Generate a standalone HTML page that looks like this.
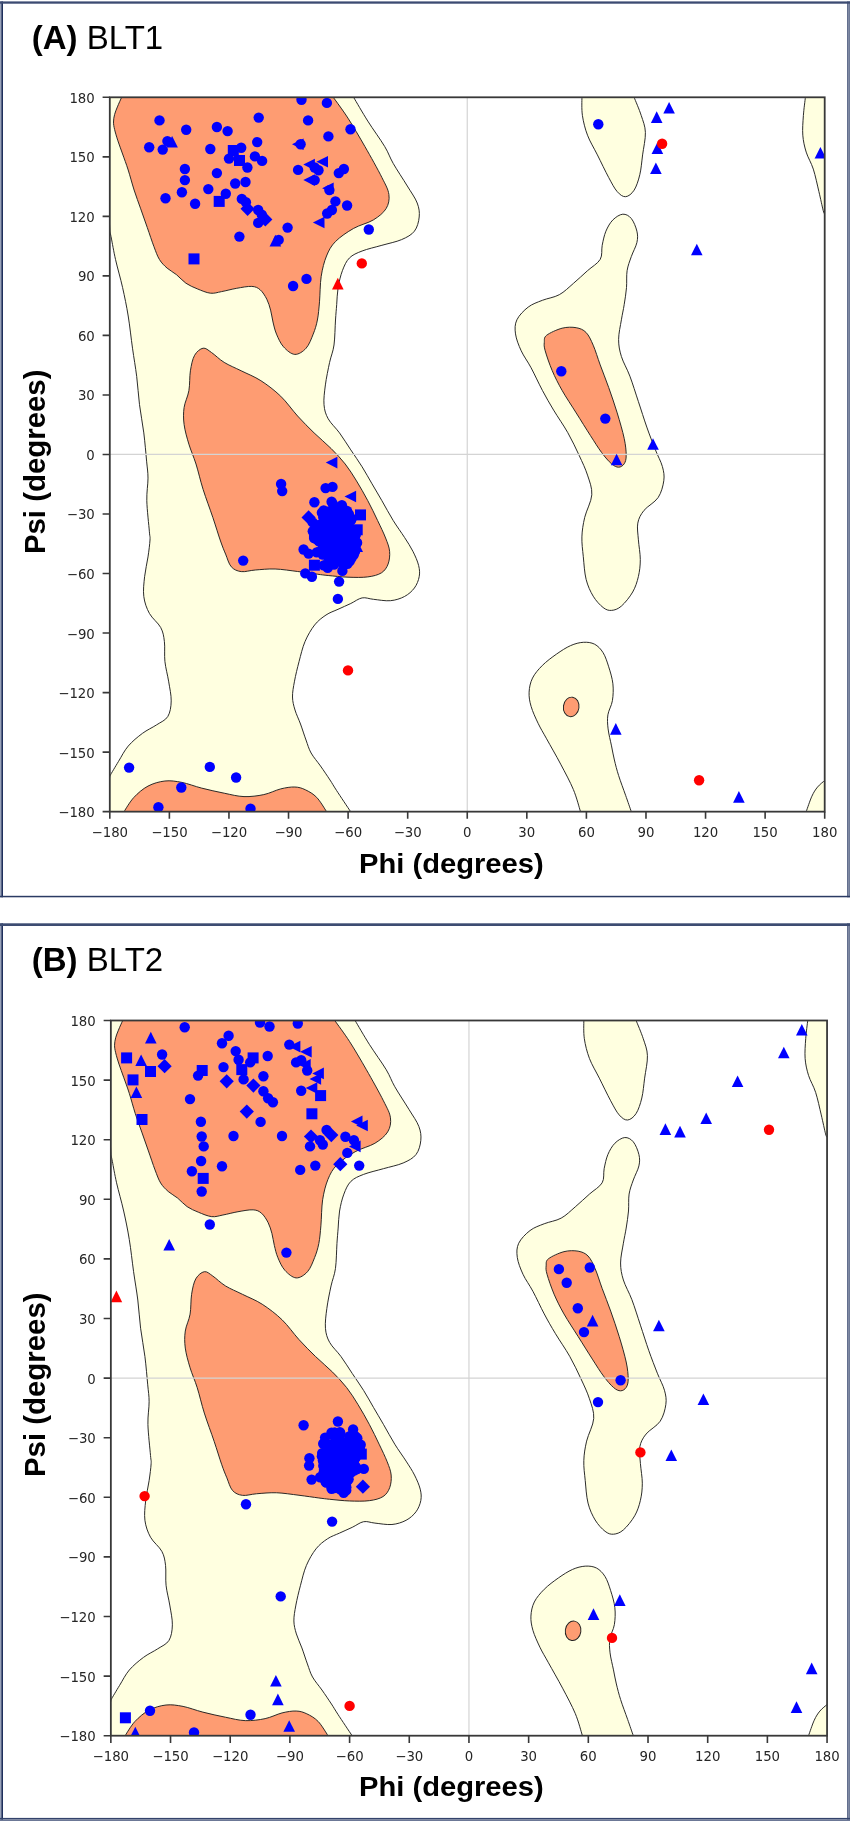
<!DOCTYPE html>
<html lang="en">
<head>
<meta charset="utf-8">
<title>Ramachandran plots: BLT1 and BLT2</title>
<style>
html,body{margin:0;padding:0;background:#fff;}
body{width:850px;height:1821px;overflow:hidden;font-family:"Liberation Sans",sans-serif;}
svg{display:block;will-change:transform;}
</style>
</head>
<body>
<svg width="850" height="1821" viewBox="0 0 850 1821">
<rect width="850" height="1821" fill="#fff"/>
<rect x="0" y="1.4" width="1.3" height="895.9" fill="#9aa3ba"/><rect x="1.3" y="1.4" width="1.7" height="895.9" fill="#1f2f5c"/><rect x="847.2" y="1.4" width="1.4" height="895.9" fill="#3e4d73"/><rect x="848.6" y="1.4" width="1.4" height="895.9" fill="#6f7b98"/><rect x="0" y="1.4" width="850" height="2.3" fill="#3c4b72"/><rect x="0" y="895.8" width="850" height="1.5" fill="#2b3b63"/>
<clipPath id="clipA"><rect x="109.80" y="97.30" width="714.90" height="714.35"/></clipPath>
<g clip-path="url(#clipA)">
<g stroke="#202020" stroke-width="0.95" stroke-linejoin="round">
<path fill="#FFFFE0" d="M353.60 97.30C355.97 101.27 362.62 112.90 367.80 121.10C372.98 129.30 380.47 139.45 384.70 146.50C388.93 153.55 389.43 156.82 393.20 163.40C396.97 169.98 403.30 179.40 407.30 186.00C411.30 192.60 415.22 197.83 417.20 203.00C419.18 208.17 419.67 212.30 419.20 217.00C418.73 221.70 417.33 227.43 414.40 231.20C411.47 234.97 407.02 237.25 401.60 239.60C396.18 241.95 388.48 243.40 381.90 245.30C375.32 247.20 367.52 248.88 362.10 251.00C356.68 253.12 352.68 254.72 349.40 258.00C346.12 261.28 344.28 265.77 342.40 270.70C340.52 275.63 339.05 281.95 338.10 287.60C337.15 293.25 337.13 299.20 336.70 304.60C336.27 310.00 335.95 313.27 335.50 320.00C335.05 326.73 334.98 337.93 334.00 345.00C333.02 352.07 331.03 355.75 329.60 362.40C328.17 369.05 326.33 377.85 325.40 384.90C324.47 391.95 323.53 399.05 324.00 404.70C324.47 410.35 325.62 414.10 328.20 418.80C330.78 423.50 335.73 427.72 339.50 432.90C343.27 438.08 347.03 444.25 350.80 449.90C354.57 455.55 358.57 461.15 362.10 466.80C365.63 472.45 368.70 478.15 372.00 483.80C375.30 489.45 378.37 494.58 381.90 500.70C385.43 506.82 389.43 514.38 393.20 520.50C396.97 526.62 401.22 532.27 404.50 537.40C407.78 542.53 410.55 546.63 412.90 551.30C415.25 555.97 417.55 561.17 418.60 565.40C419.65 569.63 419.90 572.93 419.20 576.70C418.50 580.47 416.85 584.70 414.40 588.00C411.95 591.30 408.50 594.38 404.50 596.50C400.50 598.62 395.58 600.23 390.40 600.70C385.22 601.17 378.12 599.77 373.40 599.30C368.68 598.83 365.87 597.20 362.10 597.90C358.33 598.60 354.82 601.60 350.80 603.50C346.78 605.40 342.13 607.38 338.00 609.30C333.87 611.22 329.90 612.38 326.00 615.00C322.10 617.62 318.10 620.57 314.60 625.00C311.10 629.43 307.58 635.53 305.00 641.60C302.42 647.67 300.85 654.80 299.10 661.40C297.35 668.00 295.60 675.27 294.50 681.20C293.40 687.13 292.42 692.20 292.50 697.00C292.58 701.80 293.67 705.50 295.00 710.00C296.33 714.50 298.67 719.00 300.50 724.00C302.33 729.00 304.23 735.17 306.00 740.00C307.77 744.83 308.68 748.67 311.10 753.00C313.52 757.33 317.35 761.50 320.50 766.00C323.65 770.50 327.33 775.93 330.00 780.00C332.67 784.07 333.07 785.12 336.50 790.40C339.93 795.67 348.25 808.11 350.60 811.65L103.80 817.65L109.80 776.00C111.23 773.60 115.33 766.58 118.40 761.60C121.47 756.62 124.20 750.80 128.20 746.10C132.20 741.40 137.68 736.93 142.40 733.40C147.12 729.87 152.27 727.72 156.50 724.90C160.73 722.08 165.35 720.50 167.80 716.50C170.25 712.50 171.07 706.78 171.20 700.90C171.33 695.02 169.65 687.78 168.60 681.20C167.55 674.62 165.60 668.00 164.90 661.40C164.20 654.80 165.10 647.25 164.40 641.60C163.70 635.95 163.20 632.20 160.70 627.50C158.20 622.80 152.22 618.57 149.40 613.40C146.58 608.23 144.60 602.62 143.80 596.50C143.00 590.38 143.90 583.30 144.60 576.70C145.30 570.10 147.10 563.02 148.00 556.90C148.90 550.78 149.77 544.18 150.00 540.00C150.23 535.82 149.93 538.35 149.40 531.80C148.87 525.25 147.03 509.65 146.80 500.70C146.57 491.75 148.03 484.68 148.00 478.10C147.97 471.52 147.30 468.73 146.60 461.20C145.90 453.67 144.98 442.32 143.80 432.90C142.62 423.48 140.68 414.10 139.50 404.70C138.32 395.30 137.87 385.92 136.70 376.50C135.53 367.08 133.92 358.28 132.50 348.20C131.08 338.12 129.85 326.10 128.20 316.00C126.55 305.90 124.72 297.03 122.60 287.60C120.48 278.17 117.38 267.67 115.50 259.40C113.62 251.13 112.25 242.73 111.30 238.00C110.35 233.27 110.05 232.17 109.80 231.00L103.80 91.30 L353.60 91.30 Z"/>
<path fill="#FFFFE0" d="M581.90 97.30C581.98 100.32 581.47 109.08 582.40 115.40C583.33 121.72 585.00 128.62 587.50 135.20C590.00 141.78 593.87 147.85 597.40 154.90C600.93 161.95 605.40 171.38 608.70 177.50C612.00 183.62 614.38 188.40 617.20 191.60C620.02 194.80 622.78 196.93 625.60 196.70C628.42 196.47 631.73 193.87 634.10 190.20C636.47 186.53 638.38 180.58 639.80 174.70C641.22 168.82 641.67 161.95 642.60 154.90C643.53 147.85 645.63 138.98 645.40 132.40C645.17 125.82 643.08 121.25 641.20 115.40C639.32 109.55 635.28 100.32 634.10 97.30L634.10 91.30L581.90 91.30Z"/>
<path fill="#FFFFE0" d="M622.80 214.20C619.73 214.43 615.72 217.07 612.90 219.90C610.08 222.73 607.68 226.97 605.90 231.20C604.12 235.43 603.15 240.60 602.20 245.30C601.25 250.00 602.65 255.17 600.20 259.40C597.75 263.63 591.97 266.70 587.50 270.70C583.03 274.70 578.10 279.40 573.40 283.40C568.70 287.40 564.47 291.88 559.30 294.70C554.13 297.52 547.58 298.23 542.40 300.30C537.22 302.37 532.45 303.85 528.20 307.10C523.95 310.35 519.02 315.33 516.90 319.80C514.78 324.27 514.78 328.73 515.50 333.90C516.22 339.07 518.60 345.15 521.20 350.80C523.80 356.45 527.57 361.20 531.10 367.80C534.63 374.40 538.65 383.35 542.40 390.40C546.15 397.45 549.37 403.05 553.60 410.10C557.83 417.15 563.55 425.17 567.80 432.70C572.05 440.23 575.82 448.23 579.10 455.30C582.38 462.37 585.38 468.52 587.50 475.10C589.62 481.68 592.27 487.75 591.80 494.80C591.33 501.85 586.35 510.38 584.70 517.40C583.05 524.42 582.13 530.35 581.90 536.90C581.67 543.45 582.60 549.63 583.30 556.70C584.00 563.77 584.45 572.72 586.10 579.30C587.75 585.88 590.37 591.50 593.20 596.20C596.03 600.90 600.05 605.13 603.10 607.50C606.15 609.87 608.45 610.63 611.50 610.40C614.55 610.17 617.87 609.17 621.40 606.10C624.93 603.03 629.87 596.93 632.70 592.00C635.53 587.07 637.13 581.92 638.40 576.50C639.67 571.08 640.30 565.62 640.30 559.50C640.30 553.38 638.82 545.87 638.40 539.80C637.98 533.73 636.87 528.00 637.80 523.10C638.73 518.20 640.62 514.65 644.00 510.40C647.38 506.15 654.80 502.55 658.10 497.60C661.40 492.65 663.08 485.87 663.80 480.70C664.52 475.53 663.82 471.78 662.40 466.60C660.98 461.42 657.90 456.18 655.30 449.60C652.70 443.02 649.62 435.10 646.80 427.10C643.98 419.10 641.22 410.08 638.40 401.60C635.58 393.12 632.73 383.72 629.90 376.20C627.07 368.68 623.28 362.62 621.40 356.50C619.52 350.38 618.60 345.62 618.60 339.50C618.60 333.38 620.47 325.62 621.40 319.80C622.33 313.98 623.35 309.97 624.20 304.60C625.05 299.23 626.02 293.25 626.50 287.60C626.98 281.95 626.30 275.87 627.10 270.70C627.90 265.53 629.67 261.30 631.30 256.60C632.93 251.90 635.97 246.73 636.90 242.50C637.83 238.27 637.83 235.20 636.90 231.20C635.97 227.20 633.65 221.33 631.30 218.50C628.95 215.67 625.87 213.97 622.80 214.20Z"/>
<path fill="#FFFFE0" d="M580.50 811.65C579.32 807.98 576.70 797.51 573.40 789.60C570.10 781.69 565.17 772.67 560.70 764.20C556.23 755.73 550.37 745.62 546.60 738.80C542.83 731.98 540.68 728.70 538.10 723.30C535.52 717.90 532.60 711.58 531.10 706.40C529.60 701.22 528.87 696.92 529.10 692.20C529.33 687.48 530.28 682.57 532.50 678.10C534.72 673.63 538.40 669.40 542.40 665.40C546.40 661.40 551.80 657.40 556.50 654.10C561.20 650.80 566.13 647.57 570.60 645.60C575.07 643.63 579.30 642.53 583.30 642.30C587.30 642.07 591.30 642.47 594.60 644.20C597.90 645.93 600.75 648.93 603.10 652.70C605.45 656.47 607.07 661.62 608.70 666.80C610.33 671.98 612.28 678.15 612.90 683.80C613.52 689.45 613.23 695.53 612.40 700.70C611.57 705.87 608.62 710.10 607.90 714.80C607.18 719.50 607.50 723.72 608.10 728.90C608.70 734.08 610.45 740.72 611.50 745.90C612.55 751.08 613.22 755.07 614.40 760.00C615.58 764.93 616.73 769.62 618.60 775.50C620.47 781.38 623.48 789.27 625.60 795.30C627.72 801.32 630.35 808.92 631.30 811.65L631.30 817.65L580.50 817.65Z"/>
<path fill="#FFFFE0" d="M805.40 97.30C805.07 100.32 803.83 109.08 803.40 115.40C802.97 121.72 802.33 129.08 802.80 135.20C803.27 141.32 804.45 146.45 806.20 152.10C807.95 157.75 811.18 162.52 813.30 169.10C815.42 175.68 817.25 184.70 818.90 191.60C820.55 198.50 822.23 206.77 823.20 210.50C824.17 214.23 824.45 213.42 824.70 214.00L830.70 214.00L830.70 91.30L805.40 91.30Z"/>
<path fill="#FFFFE0" d="M806.20 811.65C807.15 809.08 810.02 800.29 811.90 796.20C813.78 792.11 815.37 789.72 817.50 787.10C819.63 784.48 823.50 781.60 824.70 780.50L830.70 780.50L830.70 817.65L806.20 817.65Z"/>
<path fill="#FE9C72" d="M121.60 97.30C120.90 98.90 118.57 104.03 117.40 106.90C116.23 109.77 115.25 111.98 114.60 114.50C113.95 117.02 113.50 119.50 113.50 122.00C113.50 124.50 113.87 126.37 114.60 129.50C115.33 132.63 116.57 136.72 117.90 140.80C119.23 144.88 120.88 149.13 122.60 154.00C124.32 158.87 126.28 164.00 128.20 170.00C130.12 176.00 132.02 183.53 134.10 190.00C136.18 196.47 138.50 202.53 140.70 208.80C142.90 215.07 145.10 221.32 147.30 227.60C149.50 233.88 151.87 241.17 153.90 246.50C155.93 251.83 157.30 256.00 159.50 259.60C161.70 263.20 164.27 265.58 167.10 268.10C169.93 270.62 173.37 272.18 176.50 274.70C179.63 277.22 182.45 280.85 185.90 283.20C189.35 285.55 193.12 287.13 197.20 288.80C201.28 290.47 206.33 292.73 210.40 293.20C214.47 293.67 217.22 292.42 221.60 291.60C225.98 290.78 231.67 289.17 236.70 288.30C241.73 287.43 247.88 286.15 251.80 286.40C255.72 286.65 257.70 287.67 260.20 289.80C262.70 291.93 265.07 295.82 266.80 299.20C268.53 302.58 269.57 306.30 270.60 310.10C271.63 313.90 272.02 318.00 273.00 322.00C273.98 326.00 274.75 329.97 276.50 334.10C278.25 338.23 280.45 343.42 283.50 346.80C286.55 350.18 291.03 354.17 294.80 354.40C298.57 354.63 303.03 351.58 306.10 348.20C309.17 344.82 311.32 338.80 313.20 334.10C315.08 329.40 316.35 325.38 317.40 320.00C318.45 314.62 318.87 309.07 319.50 301.80C320.13 294.53 320.03 284.03 321.20 276.40C322.37 268.77 324.12 261.82 326.50 256.00C328.88 250.18 330.98 246.10 335.50 241.50C340.02 236.90 347.28 232.00 353.60 228.40C359.92 224.80 367.98 223.20 373.40 219.90C378.82 216.60 383.52 212.83 386.10 208.60C388.68 204.37 389.60 199.68 388.90 194.50C388.20 189.32 385.90 185.50 381.90 177.50C377.90 169.50 370.55 156.38 364.90 146.50C359.25 136.62 353.27 126.40 348.00 118.20C342.73 110.00 335.75 100.78 333.30 97.30L333.30 91.30L121.60 91.30Z"/>
<path fill="#FE9C72" d="M203.10 348.20C205.92 347.73 207.98 350.13 211.50 352.50C215.02 354.87 219.25 359.35 224.20 362.40C229.15 365.45 235.08 367.75 241.20 370.80C247.32 373.85 254.32 376.47 260.90 380.70C267.48 384.93 274.58 390.32 280.70 396.20C286.82 402.08 292.03 409.88 297.60 416.00C303.17 422.12 308.52 427.48 314.10 432.90C319.68 438.32 325.92 443.32 331.10 448.50C336.28 453.68 340.97 458.60 345.20 464.00C349.43 469.40 352.73 474.78 356.50 480.90C360.27 487.02 364.28 494.10 367.80 500.70C371.32 507.30 374.63 514.28 377.60 520.50C380.57 526.72 383.60 532.87 385.60 538.00C387.60 543.13 389.18 546.97 389.60 551.30C390.02 555.63 389.45 560.42 388.10 564.00C386.75 567.58 384.88 570.65 381.50 572.80C378.12 574.95 373.38 576.17 367.80 576.90C362.22 577.63 354.60 577.43 348.00 577.20C341.40 576.97 333.30 576.00 328.20 575.50C323.10 575.00 322.50 574.87 317.40 574.20C312.30 573.53 304.65 572.37 297.60 571.50C290.55 570.63 282.15 569.25 275.10 569.00C268.05 568.75 260.95 569.57 255.30 570.00C249.65 570.43 245.20 572.13 241.20 571.60C237.20 571.07 233.90 569.72 231.30 566.80C228.70 563.88 227.40 558.40 225.60 554.10C223.80 549.80 222.62 547.08 220.50 541.00C218.38 534.92 215.80 526.20 212.90 517.60C210.00 509.00 205.92 498.33 203.10 489.40C200.28 480.47 198.37 471.53 196.00 464.00C193.63 456.47 190.88 450.78 188.90 444.20C186.92 437.62 184.90 430.62 184.10 424.50C183.30 418.38 183.30 413.15 184.10 407.50C184.90 401.85 187.85 396.72 188.90 390.60C189.95 384.48 189.45 376.68 190.40 370.80C191.35 364.92 192.48 359.07 194.60 355.30C196.72 351.53 200.28 348.67 203.10 348.20Z"/>
<path fill="#FE9C72" d="M124.00 811.65C125.65 809.27 129.90 801.66 133.90 797.40C137.90 793.14 142.83 788.83 148.00 786.10C153.17 783.37 159.25 781.62 164.90 781.00C170.55 780.38 175.78 781.22 181.90 782.40C188.02 783.58 194.55 786.30 201.60 788.10C208.65 789.90 217.13 791.78 224.20 793.20C231.27 794.62 237.40 796.37 244.00 796.60C250.60 796.83 257.68 795.88 263.80 794.60C269.92 793.32 275.53 790.17 280.70 788.90C285.87 787.63 290.68 786.85 294.80 787.00C298.92 787.15 301.75 788.07 305.40 789.80C309.05 791.53 313.17 793.76 316.70 797.40C320.23 801.04 324.95 809.27 326.60 811.65L326.60 817.65L124.00 817.65Z"/>
<path fill="#FE9C72" d="M546.60 335.30C549.57 332.93 557.17 329.47 562.10 328.20C567.03 326.93 572.20 326.98 576.20 327.70C580.20 328.42 583.27 329.58 586.10 332.50C588.93 335.42 590.85 339.80 593.20 345.20C595.55 350.60 597.62 357.85 600.20 364.90C602.78 371.95 605.87 379.50 608.70 387.50C611.53 395.50 614.62 404.42 617.20 412.90C619.78 421.38 622.70 431.33 624.20 438.40C625.70 445.47 626.20 451.07 626.20 455.30C626.20 459.53 625.47 461.82 624.20 463.80C622.93 465.78 620.72 467.20 618.60 467.20C616.48 467.20 614.33 466.25 611.50 463.80C608.67 461.35 605.12 457.22 601.60 452.50C598.08 447.78 594.63 442.10 590.40 435.50C586.17 428.90 580.92 420.42 576.20 412.90C571.48 405.38 566.10 397.45 562.10 390.40C558.10 383.35 555.02 377.20 552.20 370.60C549.38 364.00 546.52 355.50 545.20 350.80C543.88 346.10 544.07 344.98 544.30 342.40C544.53 339.82 543.63 337.67 546.60 335.30Z"/>
<ellipse cx="571.2" cy="706.9" rx="7.8" ry="9.8" transform="rotate(8 571.2 706.9)" fill="#FE9C72"/>
</g>
<path d="M467.25 97.30V811.65M109.80 454.47H824.70" stroke="#d4d4d4" stroke-width="1.2" fill="none"/>
<g fill="#0000ff">
<circle cx="332.2" cy="546.2" r="5.2"/><circle cx="332.5" cy="531.3" r="5.2"/><circle cx="324.8" cy="533.2" r="5.2"/><circle cx="347.2" cy="544.6" r="5.2"/><circle cx="346.4" cy="541.5" r="5.2"/><circle cx="339.3" cy="540.3" r="5.2"/><circle cx="316.7" cy="552.4" r="5.2"/><circle cx="340.6" cy="546.0" r="5.2"/><circle cx="325.2" cy="528.6" r="5.2"/><circle cx="338.4" cy="536.2" r="5.2"/><circle cx="340.7" cy="525.4" r="5.2"/><circle cx="338.4" cy="544.1" r="5.2"/><circle cx="327.7" cy="567.9" r="5.2"/><circle cx="341.1" cy="558.5" r="5.2"/><circle cx="328.2" cy="523.7" r="5.2"/><circle cx="331.2" cy="535.1" r="5.2"/><circle cx="342.0" cy="541.5" r="5.2"/><circle cx="330.1" cy="519.8" r="5.2"/><circle cx="329.3" cy="559.0" r="5.2"/><circle cx="326.1" cy="541.4" r="5.2"/><circle cx="339.7" cy="510.2" r="5.2"/><circle cx="335.5" cy="560.5" r="5.2"/><circle cx="312.8" cy="531.2" r="5.2"/><circle cx="333.8" cy="522.3" r="5.2"/><circle cx="340.5" cy="535.9" r="5.2"/><circle cx="318.9" cy="551.9" r="5.2"/><circle cx="342.4" cy="554.0" r="5.2"/><circle cx="350.8" cy="543.5" r="5.2"/><circle cx="336.3" cy="513.6" r="5.2"/><circle cx="341.8" cy="526.0" r="5.2"/><circle cx="330.0" cy="514.2" r="5.2"/><circle cx="324.4" cy="527.4" r="5.2"/><circle cx="319.0" cy="541.3" r="5.2"/><circle cx="350.9" cy="547.4" r="5.2"/><circle cx="338.9" cy="523.7" r="5.2"/><circle cx="322.7" cy="554.6" r="5.2"/><circle cx="347.1" cy="539.8" r="5.2"/><circle cx="337.7" cy="544.8" r="5.2"/><circle cx="352.5" cy="548.1" r="5.2"/><circle cx="340.7" cy="546.9" r="5.2"/><circle cx="345.5" cy="546.5" r="5.2"/><circle cx="333.0" cy="555.4" r="5.2"/><circle cx="341.1" cy="534.3" r="5.2"/><circle cx="338.6" cy="548.7" r="5.2"/><circle cx="336.3" cy="557.6" r="5.2"/><circle cx="327.7" cy="529.5" r="5.2"/><circle cx="346.5" cy="537.5" r="5.2"/><circle cx="325.3" cy="554.0" r="5.2"/><circle cx="351.1" cy="529.0" r="5.2"/><circle cx="319.8" cy="534.6" r="5.2"/><circle cx="333.4" cy="531.6" r="5.2"/><circle cx="350.5" cy="518.5" r="5.2"/><circle cx="348.9" cy="514.2" r="5.2"/><circle cx="326.3" cy="548.4" r="5.2"/><circle cx="347.4" cy="552.5" r="5.2"/><circle cx="338.8" cy="539.6" r="5.2"/><circle cx="336.7" cy="547.4" r="5.2"/><circle cx="333.1" cy="542.0" r="5.2"/><circle cx="341.3" cy="537.0" r="5.2"/><circle cx="343.4" cy="547.2" r="5.2"/><circle cx="357.1" cy="542.8" r="5.2"/><circle cx="330.3" cy="530.3" r="5.2"/><circle cx="334.9" cy="553.6" r="5.2"/><circle cx="331.3" cy="543.9" r="5.2"/><circle cx="322.6" cy="541.4" r="5.2"/><circle cx="339.4" cy="541.3" r="5.2"/><circle cx="330.3" cy="548.8" r="5.2"/><circle cx="338.1" cy="527.6" r="5.2"/><circle cx="328.9" cy="535.2" r="5.2"/><circle cx="332.5" cy="535.9" r="5.2"/><circle cx="346.1" cy="516.0" r="5.2"/><circle cx="334.3" cy="554.2" r="5.2"/><circle cx="344.4" cy="563.8" r="5.2"/><circle cx="316.3" cy="530.6" r="5.2"/><circle cx="331.2" cy="548.2" r="5.2"/><circle cx="347.0" cy="510.9" r="5.2"/><circle cx="342.5" cy="510.1" r="5.2"/><circle cx="336.9" cy="558.5" r="5.2"/><circle cx="333.4" cy="540.4" r="5.2"/><circle cx="343.8" cy="539.5" r="5.2"/><circle cx="334.0" cy="564.6" r="5.2"/><circle cx="346.5" cy="531.7" r="5.2"/><circle cx="345.1" cy="532.2" r="5.2"/><circle cx="336.5" cy="549.7" r="5.2"/><circle cx="337.4" cy="548.5" r="5.2"/><circle cx="341.8" cy="519.7" r="5.2"/><circle cx="323.7" cy="510.5" r="5.2"/><circle cx="348.9" cy="550.4" r="5.2"/><circle cx="351.2" cy="520.1" r="5.2"/><circle cx="335.0" cy="516.5" r="5.2"/><circle cx="343.4" cy="565.6" r="5.2"/><circle cx="325.2" cy="565.1" r="5.2"/><circle cx="345.9" cy="533.8" r="5.2"/><circle cx="333.9" cy="526.1" r="5.2"/><circle cx="339.4" cy="544.4" r="5.2"/><circle cx="351.5" cy="518.6" r="5.2"/><circle cx="347.5" cy="563.8" r="5.2"/><circle cx="351.0" cy="533.7" r="5.2"/><circle cx="326.8" cy="555.3" r="5.2"/><circle cx="336.3" cy="539.2" r="5.2"/><circle cx="350.7" cy="532.3" r="5.2"/><circle cx="338.5" cy="526.0" r="5.2"/><circle cx="334.9" cy="552.0" r="5.2"/><circle cx="335.9" cy="560.9" r="5.2"/><circle cx="334.3" cy="555.7" r="5.2"/><circle cx="327.6" cy="552.8" r="5.2"/><circle cx="321.4" cy="536.8" r="5.2"/><circle cx="332.9" cy="536.5" r="5.2"/><circle cx="328.5" cy="541.2" r="5.2"/><circle cx="354.7" cy="537.8" r="5.2"/><circle cx="340.8" cy="555.0" r="5.2"/><circle cx="332.8" cy="514.3" r="5.2"/><circle cx="328.9" cy="556.3" r="5.2"/><circle cx="316.9" cy="526.2" r="5.2"/><circle cx="346.1" cy="551.3" r="5.2"/><circle cx="335.1" cy="551.5" r="5.2"/><circle cx="336.8" cy="515.8" r="5.2"/><circle cx="317.8" cy="525.5" r="5.2"/><circle cx="345.2" cy="526.8" r="5.2"/><circle cx="325.1" cy="523.1" r="5.2"/><circle cx="318.2" cy="534.9" r="5.2"/><circle cx="322.0" cy="543.6" r="5.2"/><circle cx="343.0" cy="532.0" r="5.2"/><circle cx="338.2" cy="528.7" r="5.2"/><circle cx="343.6" cy="550.5" r="5.2"/><circle cx="342.3" cy="542.9" r="5.2"/><circle cx="349.7" cy="548.9" r="5.2"/><circle cx="344.9" cy="560.6" r="5.2"/><circle cx="331.7" cy="528.5" r="5.2"/><circle cx="324.8" cy="549.4" r="5.2"/><circle cx="355.8" cy="534.8" r="5.2"/><circle cx="341.2" cy="553.2" r="5.2"/><circle cx="325.0" cy="535.4" r="5.2"/><circle cx="338.2" cy="551.9" r="5.2"/><circle cx="334.6" cy="533.5" r="5.2"/><circle cx="323.8" cy="530.5" r="5.2"/><circle cx="344.8" cy="538.8" r="5.2"/><circle cx="325.6" cy="521.9" r="5.2"/><circle cx="341.8" cy="545.7" r="5.2"/><circle cx="353.5" cy="544.7" r="5.2"/><circle cx="334.3" cy="546.4" r="5.2"/><circle cx="338.6" cy="524.4" r="5.2"/><circle cx="319.6" cy="525.0" r="5.2"/><circle cx="338.2" cy="540.3" r="5.2"/><circle cx="330.6" cy="519.5" r="5.2"/><circle cx="321.9" cy="512.8" r="5.2"/><circle cx="353.7" cy="554.8" r="5.2"/><circle cx="355.0" cy="551.6" r="5.2"/><circle cx="325.4" cy="541.7" r="5.2"/><circle cx="334.4" cy="546.4" r="5.2"/><circle cx="327.0" cy="534.8" r="5.2"/><circle cx="340.0" cy="543.8" r="5.2"/><circle cx="342.0" cy="540.8" r="5.2"/><circle cx="331.4" cy="551.2" r="5.2"/><circle cx="335.5" cy="522.1" r="5.2"/><circle cx="328.1" cy="537.0" r="5.2"/><circle cx="333.8" cy="539.8" r="5.2"/><circle cx="335.0" cy="540.2" r="5.2"/><circle cx="333.5" cy="514.3" r="5.2"/><circle cx="339.6" cy="556.0" r="5.2"/><circle cx="339.8" cy="533.6" r="5.2"/><circle cx="339.9" cy="519.6" r="5.2"/><circle cx="314.1" cy="538.1" r="5.2"/><circle cx="324.8" cy="550.3" r="5.2"/><circle cx="323.6" cy="565.4" r="5.2"/><circle cx="330.8" cy="512.4" r="5.2"/><circle cx="326.6" cy="546.4" r="5.2"/><circle cx="340.5" cy="540.2" r="5.2"/><circle cx="351.3" cy="549.7" r="5.2"/><circle cx="334.8" cy="547.7" r="5.2"/><circle cx="353.2" cy="554.5" r="5.2"/><circle cx="346.3" cy="517.5" r="5.2"/><circle cx="333.4" cy="550.1" r="5.2"/><circle cx="331.7" cy="556.2" r="5.2"/><circle cx="341.6" cy="553.3" r="5.2"/><circle cx="348.6" cy="533.1" r="5.2"/><circle cx="331.2" cy="552.7" r="5.2"/><circle cx="345.8" cy="537.1" r="5.2"/><circle cx="322.2" cy="540.4" r="5.2"/><circle cx="339.0" cy="557.3" r="5.2"/><circle cx="343.6" cy="537.4" r="5.2"/><circle cx="344.4" cy="546.7" r="5.2"/><circle cx="337.3" cy="538.0" r="5.2"/><circle cx="332.3" cy="549.4" r="5.2"/><circle cx="323.4" cy="525.7" r="5.2"/><circle cx="335.1" cy="510.6" r="5.2"/><circle cx="327.5" cy="547.2" r="5.2"/><circle cx="341.2" cy="536.0" r="5.2"/><circle cx="332.4" cy="511.5" r="5.2"/><circle cx="355.1" cy="546.3" r="5.2"/><circle cx="347.0" cy="521.1" r="5.2"/><circle cx="333.0" cy="504.2" r="5.2"/><circle cx="343.6" cy="553.8" r="5.2"/><circle cx="314.1" cy="536.1" r="5.2"/><circle cx="341.9" cy="505.3" r="5.2"/><circle cx="328.1" cy="511.7" r="5.2"/><circle cx="335.3" cy="541.5" r="5.2"/><circle cx="342.0" cy="549.6" r="5.2"/><circle cx="351.5" cy="558.0" r="5.2"/><circle cx="320.6" cy="527.9" r="5.2"/><circle cx="323.3" cy="517.6" r="5.2"/><circle cx="334.1" cy="537.1" r="5.2"/><circle cx="340.4" cy="508.4" r="5.2"/><circle cx="321.4" cy="536.6" r="5.2"/><circle cx="332.8" cy="531.4" r="5.2"/><circle cx="334.3" cy="523.3" r="5.2"/><circle cx="342.7" cy="543.4" r="5.2"/><circle cx="334.0" cy="524.9" r="5.2"/><circle cx="324.2" cy="537.7" r="5.2"/><circle cx="318.5" cy="540.6" r="5.2"/><circle cx="336.6" cy="512.2" r="5.2"/><circle cx="332.2" cy="531.4" r="5.2"/><circle cx="340.1" cy="548.0" r="5.2"/><circle cx="334.6" cy="521.7" r="5.2"/><circle cx="333.4" cy="535.8" r="5.2"/><circle cx="343.1" cy="542.3" r="5.2"/><circle cx="327.1" cy="512.6" r="5.2"/><circle cx="330.9" cy="523.7" r="5.2"/><circle cx="322.8" cy="534.9" r="5.2"/><circle cx="329.6" cy="538.9" r="5.2"/><circle cx="340.8" cy="529.6" r="5.2"/><circle cx="347.1" cy="539.2" r="5.2"/><circle cx="326.7" cy="541.4" r="5.2"/><circle cx="338.5" cy="560.0" r="5.2"/><circle cx="343.4" cy="554.1" r="5.2"/><circle cx="340.6" cy="534.2" r="5.2"/><circle cx="340.6" cy="517.6" r="5.2"/><circle cx="348.0" cy="518.7" r="5.2"/><circle cx="332.5" cy="537.4" r="5.2"/><circle cx="347.8" cy="537.5" r="5.2"/>
<circle cx="159.5" cy="120.4" r="5.2"/><circle cx="258.7" cy="117.6" r="5.2"/><circle cx="186.2" cy="129.8" r="5.2"/><circle cx="216.9" cy="127.0" r="5.2"/><circle cx="227.6" cy="131.1" r="5.2"/><circle cx="167.4" cy="141.1" r="5.2"/><path d="M172.1 135.9L177.9 147.5L166.3 147.5Z"/><circle cx="149.2" cy="147.3" r="5.2"/><circle cx="162.7" cy="149.6" r="5.2"/><circle cx="210.3" cy="149.0" r="5.2"/><circle cx="257.2" cy="142.1" r="5.2"/><circle cx="241.2" cy="147.7" r="5.2"/><rect x="227.8" y="145.0" width="11.0" height="11.0"/><circle cx="229.0" cy="158.6" r="5.2"/><rect x="234.0" y="155.0" width="11.0" height="11.0"/><circle cx="254.9" cy="156.4" r="5.2"/><circle cx="262.1" cy="160.9" r="5.2"/><circle cx="247.4" cy="167.5" r="5.2"/><circle cx="184.9" cy="169.0" r="5.2"/><circle cx="216.9" cy="173.1" r="5.2"/><circle cx="184.9" cy="180.1" r="5.2"/><circle cx="235.2" cy="183.5" r="5.2"/><circle cx="245.5" cy="182.0" r="5.2"/><circle cx="181.9" cy="192.3" r="5.2"/><circle cx="208.3" cy="189.1" r="5.2"/><circle cx="225.8" cy="193.8" r="5.2"/><circle cx="165.5" cy="198.2" r="5.2"/><rect x="213.7" y="195.9" width="11.0" height="11.0"/><circle cx="195.1" cy="203.8" r="5.2"/><circle cx="241.8" cy="198.9" r="5.2"/><circle cx="245.9" cy="202.3" r="5.2"/><path d="M247.6 201.7L254.7 208.8L247.6 215.9L240.5 208.8Z"/><circle cx="258.2" cy="210.0" r="5.2"/><circle cx="261.8" cy="214.7" r="5.2"/><path d="M265.3 212.3L272.4 219.4L265.3 226.5L258.2 219.4Z"/><circle cx="258.2" cy="222.9" r="5.2"/><circle cx="287.6" cy="227.6" r="5.2"/><circle cx="239.4" cy="236.6" r="5.2"/><path d="M275.4 234.8L281.2 246.4L269.6 246.4Z"/><circle cx="278.7" cy="239.9" r="5.2"/><rect x="188.5" y="253.4" width="11.0" height="11.0"/><circle cx="306.5" cy="278.9" r="5.2"/><circle cx="293.1" cy="286.0" r="5.2"/><circle cx="301.5" cy="99.7" r="5.2"/><circle cx="326.9" cy="102.9" r="5.2"/><circle cx="308.1" cy="120.4" r="5.2"/><circle cx="350.5" cy="129.3" r="5.2"/><circle cx="328.4" cy="136.4" r="5.2"/><path d="M292.0 144.3L303.6 138.5L303.6 150.1Z"/><circle cx="300.6" cy="144.3" r="5.2"/><path d="M316.4 161.8L328.0 156.0L328.0 167.6Z"/><path d="M303.3 164.6L314.9 158.8L314.9 170.4Z"/><circle cx="314.7" cy="167.5" r="5.2"/><circle cx="298.1" cy="169.9" r="5.2"/><circle cx="318.5" cy="170.3" r="5.2"/><path d="M303.3 180.1L314.9 174.3L314.9 185.9Z"/><circle cx="314.7" cy="180.1" r="5.2"/><circle cx="343.9" cy="169.0" r="5.2"/><circle cx="338.8" cy="173.1" r="5.2"/><path d="M322.1 188.2L333.7 182.4L333.7 194.0Z"/><circle cx="329.4" cy="190.1" r="5.2"/><circle cx="335.4" cy="201.4" r="5.2"/><circle cx="347.1" cy="205.5" r="5.2"/><circle cx="331.9" cy="210.0" r="5.2"/><circle cx="327.2" cy="213.5" r="5.2"/><path d="M312.9 222.5L324.5 216.7L324.5 228.3Z"/><circle cx="368.8" cy="229.5" r="5.2"/><path d="M325.8 462.6L337.4 456.8L337.4 468.4Z"/><circle cx="281.1" cy="484.0" r="5.2"/><circle cx="282.2" cy="491.1" r="5.2"/><circle cx="325.6" cy="488.1" r="5.2"/><circle cx="332.5" cy="486.9" r="5.2"/><path d="M344.5 496.5L356.1 490.7L356.1 502.3Z"/><rect x="355.0" y="509.4" width="11.0" height="11.0"/><rect x="351.7" y="524.3" width="11.0" height="11.0"/><circle cx="314.4" cy="502.3" r="5.2"/><circle cx="331.6" cy="501.8" r="5.2"/><path d="M308.6 510.3L315.7 517.4L308.6 524.5L301.5 517.4Z"/><circle cx="312.7" cy="522.4" r="5.2"/><circle cx="316.0" cy="538.8" r="5.2"/><circle cx="303.6" cy="549.5" r="5.2"/><circle cx="308.6" cy="553.6" r="5.2"/><rect x="308.9" y="559.7" width="11.0" height="11.0"/><circle cx="305.3" cy="573.4" r="5.2"/><circle cx="311.9" cy="576.7" r="5.2"/><circle cx="342.4" cy="570.9" r="5.2"/><circle cx="339.1" cy="581.6" r="5.2"/><circle cx="337.9" cy="598.9" r="5.2"/><circle cx="349.8" cy="561.1" r="5.2"/><path d="M357.2 540.4L363.0 552.0L351.4 552.0Z"/><circle cx="243.2" cy="560.6" r="5.2"/><circle cx="129.1" cy="767.6" r="5.2"/><circle cx="209.8" cy="766.9" r="5.2"/><circle cx="236.1" cy="777.5" r="5.2"/><circle cx="181.3" cy="787.5" r="5.2"/><circle cx="158.4" cy="807.3" r="5.2"/><circle cx="250.5" cy="808.7" r="5.2"/><circle cx="598.3" cy="124.2" r="5.2"/><path d="M669.1 101.9L674.9 113.5L663.3 113.5Z"/><path d="M656.7 111.3L662.5 122.9L650.9 122.9Z"/><path d="M657.4 142.3L663.2 153.9L651.6 153.9Z"/><path d="M655.9 162.4L661.7 174.0L650.1 174.0Z"/><path d="M696.8 243.7L702.6 255.3L691.0 255.3Z"/><path d="M820.4 146.9L826.2 158.5L814.6 158.5Z"/><circle cx="561.3" cy="371.2" r="5.2"/><circle cx="605.3" cy="418.6" r="5.2"/><path d="M616.6 453.7L622.4 465.3L610.8 465.3Z"/><path d="M653.0 438.2L658.8 449.8L647.2 449.8Z"/><path d="M615.8 723.1L621.6 734.7L610.0 734.7Z"/><path d="M738.9 791.1L744.7 802.7L733.1 802.7Z"/>
</g>
<g fill="#ff0000"><circle cx="662.1" cy="143.7" r="5.2"/><circle cx="361.8" cy="263.4" r="5.2"/><path d="M337.8 277.8L343.6 289.4L332.0 289.4Z"/><circle cx="348.0" cy="670.4" r="5.2"/><circle cx="699.1" cy="780.3" r="5.2"/></g>
</g>
<rect x="109.80" y="97.30" width="714.90" height="714.35" fill="none" stroke="#383838" stroke-width="1.8"/>
<path d="M109.80 811.65v7.2M109.80 811.65h-7.2M169.38 811.65v7.2M109.80 752.12h-7.2M228.95 811.65v7.2M109.80 692.59h-7.2M288.53 811.65v7.2M109.80 633.06h-7.2M348.10 811.65v7.2M109.80 573.53h-7.2M407.68 811.65v7.2M109.80 514.00h-7.2M467.25 811.65v7.2M109.80 454.47h-7.2M526.83 811.65v7.2M109.80 394.95h-7.2M586.40 811.65v7.2M109.80 335.42h-7.2M645.98 811.65v7.2M109.80 275.89h-7.2M705.55 811.65v7.2M109.80 216.36h-7.2M765.12 811.65v7.2M109.80 156.83h-7.2M824.70 811.65v7.2M109.80 97.30h-7.2" stroke="#383838" stroke-width="1.6" fill="none"/>
<g font-family="'DejaVu Sans', 'Liberation Sans', sans-serif" font-size="13.3px" fill="#262626" opacity="0.999"><text x="109.8" y="836.5" text-anchor="middle">−180</text><text x="94.8" y="817.0" text-anchor="end">−180</text><text x="169.4" y="836.5" text-anchor="middle">−150</text><text x="94.8" y="757.5" text-anchor="end">−150</text><text x="229.0" y="836.5" text-anchor="middle">−120</text><text x="94.8" y="698.0" text-anchor="end">−120</text><text x="288.5" y="836.5" text-anchor="middle">−90</text><text x="94.8" y="638.5" text-anchor="end">−90</text><text x="348.1" y="836.5" text-anchor="middle">−60</text><text x="94.8" y="578.9" text-anchor="end">−60</text><text x="407.7" y="836.5" text-anchor="middle">−30</text><text x="94.8" y="519.4" text-anchor="end">−30</text><text x="467.3" y="836.5" text-anchor="middle">0</text><text x="94.8" y="459.9" text-anchor="end">0</text><text x="526.8" y="836.5" text-anchor="middle">30</text><text x="94.8" y="400.3" text-anchor="end">30</text><text x="586.4" y="836.5" text-anchor="middle">60</text><text x="94.8" y="340.8" text-anchor="end">60</text><text x="646.0" y="836.5" text-anchor="middle">90</text><text x="94.8" y="281.3" text-anchor="end">90</text><text x="705.6" y="836.5" text-anchor="middle">120</text><text x="94.8" y="221.8" text-anchor="end">120</text><text x="765.1" y="836.5" text-anchor="middle">150</text><text x="94.8" y="162.2" text-anchor="end">150</text><text x="824.7" y="836.5" text-anchor="middle">180</text><text x="94.8" y="102.7" text-anchor="end">180</text></g>
<text x="359.0" y="873.4" font-family="'Liberation Sans', sans-serif" font-weight="bold" font-size="27.5px" textLength="184.6" lengthAdjust="spacingAndGlyphs" fill="#000" opacity="0.999">Phi (degrees)</text>
<text transform="translate(45.4 461.8) rotate(-90)" font-family="'Liberation Sans', sans-serif" font-weight="bold" font-size="29.4px" text-anchor="middle" fill="#000" opacity="0.999">Psi (degrees)</text>
<g opacity="0.999"><text x="31.8" y="49.0" font-family="'Liberation Sans', sans-serif" font-size="33px" fill="#000"><tspan font-weight="bold">(A)</tspan> BLT1</text></g>
<rect x="0" y="923.3" width="1.3" height="897.7" fill="#9aa3ba"/><rect x="1.3" y="923.3" width="1.7" height="897.7" fill="#1f2f5c"/><rect x="847.2" y="923.3" width="1.4" height="897.7" fill="#3e4d73"/><rect x="848.6" y="923.3" width="1.4" height="897.7" fill="#6f7b98"/><rect x="0" y="923.3" width="850" height="2.7" fill="#3d4c72"/><rect x="0" y="1817.9" width="850" height="1.6" fill="#33436b"/><rect x="0" y="1819.5" width="850" height="1.5" fill="#6c7896"/>
<clipPath id="clipB"><rect x="110.85" y="1020.50" width="716.21" height="715.20"/></clipPath>
<g clip-path="url(#clipB)">
<g stroke="#202020" stroke-width="0.95" stroke-linejoin="round">
<path fill="#FFFFE0" d="M355.10 1020.50C357.47 1024.47 364.13 1036.12 369.32 1044.33C374.52 1052.54 382.01 1062.70 386.25 1069.76C390.49 1076.82 391.00 1080.09 394.77 1086.68C398.54 1093.27 404.89 1102.70 408.90 1109.31C412.90 1115.91 416.83 1121.15 418.81 1126.33C420.80 1131.50 421.28 1135.64 420.82 1140.34C420.35 1145.05 418.95 1150.79 416.01 1154.56C413.07 1158.33 408.61 1160.62 403.18 1162.97C397.76 1165.32 390.04 1166.77 383.45 1168.68C376.85 1170.58 369.04 1172.26 363.61 1174.38C358.19 1176.50 354.18 1178.10 350.89 1181.39C347.60 1184.68 345.76 1189.17 343.88 1194.11C341.99 1199.05 340.52 1205.37 339.57 1211.03C338.62 1216.68 338.60 1222.64 338.17 1228.05C337.73 1233.45 337.41 1236.72 336.96 1243.46C336.51 1250.21 336.45 1261.42 335.46 1268.49C334.48 1275.57 332.49 1279.26 331.05 1285.92C329.62 1292.57 327.78 1301.38 326.85 1308.44C325.91 1315.50 324.97 1322.61 325.44 1328.27C325.91 1333.92 327.06 1337.68 329.65 1342.38C332.24 1347.09 337.20 1351.31 340.97 1356.50C344.74 1361.69 348.52 1367.86 352.29 1373.52C356.07 1379.18 360.07 1384.78 363.61 1390.44C367.15 1396.10 370.22 1401.80 373.53 1407.46C376.84 1413.12 379.91 1418.26 383.45 1424.38C386.99 1430.50 391.00 1438.08 394.77 1444.20C398.54 1450.33 402.80 1455.98 406.09 1461.12C409.38 1466.26 412.15 1470.37 414.51 1475.04C416.86 1479.71 419.16 1484.92 420.22 1489.16C421.27 1493.40 421.52 1496.70 420.82 1500.47C420.12 1504.24 418.46 1508.48 416.01 1511.78C413.55 1515.09 410.10 1518.17 406.09 1520.29C402.08 1522.41 397.16 1524.03 391.96 1524.50C386.77 1524.97 379.66 1523.56 374.93 1523.10C370.21 1522.63 367.39 1520.99 363.61 1521.70C359.84 1522.40 356.32 1525.40 352.29 1527.30C348.27 1529.20 343.61 1531.19 339.47 1533.11C335.33 1535.03 331.35 1536.20 327.45 1538.82C323.54 1541.44 319.53 1544.39 316.03 1548.83C312.52 1553.27 309.00 1559.37 306.41 1565.45C303.82 1571.52 302.25 1578.66 300.50 1585.27C298.74 1591.88 296.99 1599.15 295.89 1605.09C294.79 1611.04 293.80 1616.11 293.88 1620.91C293.97 1625.72 295.05 1629.42 296.39 1633.93C297.73 1638.43 300.06 1642.94 301.90 1647.95C303.74 1652.95 305.64 1659.13 307.41 1663.96C309.18 1668.80 310.10 1672.64 312.52 1676.98C314.94 1681.32 318.78 1685.49 321.94 1690.00C325.09 1694.50 328.78 1699.94 331.45 1704.01C334.13 1708.08 334.53 1709.14 337.97 1714.42C341.41 1719.71 349.74 1732.15 352.09 1735.70L104.85 1741.70L110.85 1700.01C112.29 1697.60 116.39 1690.58 119.47 1685.59C122.54 1680.60 125.28 1674.78 129.28 1670.07C133.29 1665.37 138.78 1660.89 143.51 1657.36C148.24 1653.82 153.39 1651.67 157.64 1648.85C161.88 1646.03 166.50 1644.44 168.96 1640.44C171.41 1636.43 172.23 1630.71 172.36 1624.82C172.50 1618.93 170.81 1611.69 169.76 1605.09C168.71 1598.50 166.75 1591.88 166.05 1585.27C165.35 1578.66 166.25 1571.10 165.55 1565.45C164.85 1559.79 164.35 1556.04 161.84 1551.33C159.34 1546.63 153.34 1542.39 150.52 1537.21C147.70 1532.04 145.71 1526.42 144.91 1520.29C144.11 1514.17 145.01 1507.08 145.71 1500.47C146.42 1493.86 148.22 1486.77 149.12 1480.65C150.02 1474.52 150.89 1467.92 151.12 1463.73C151.36 1459.54 151.06 1462.07 150.52 1455.52C149.99 1448.96 148.15 1433.34 147.92 1424.38C147.68 1415.42 149.15 1408.34 149.12 1401.75C149.09 1395.16 148.42 1392.38 147.72 1384.83C147.02 1377.29 146.10 1365.93 144.91 1356.50C143.73 1347.07 141.79 1337.68 140.60 1328.27C139.42 1318.85 138.97 1309.46 137.80 1300.03C136.63 1290.60 135.01 1281.79 133.59 1271.70C132.17 1261.60 130.94 1249.57 129.28 1239.46C127.63 1229.35 125.79 1220.47 123.67 1211.03C121.55 1201.58 118.45 1191.07 116.56 1182.79C114.67 1174.52 113.30 1166.11 112.35 1161.37C111.40 1156.63 111.10 1155.53 110.85 1154.36L104.85 1014.50 L355.10 1014.50 Z"/>
<path fill="#FFFFE0" d="M583.82 1020.50C583.90 1023.52 583.38 1032.30 584.32 1038.62C585.25 1044.95 586.92 1051.85 589.43 1058.45C591.93 1065.04 595.80 1071.11 599.34 1078.17C602.88 1085.23 607.36 1094.67 610.66 1100.80C613.97 1106.92 616.36 1111.71 619.18 1114.91C622.00 1118.12 624.77 1120.25 627.60 1120.02C630.42 1119.78 633.74 1117.18 636.11 1113.51C638.48 1109.84 640.40 1103.88 641.82 1097.99C643.24 1092.10 643.69 1085.23 644.63 1078.17C645.56 1071.11 647.67 1062.23 647.43 1055.64C647.20 1049.05 645.11 1044.48 643.22 1038.62C641.34 1032.76 637.30 1023.52 636.11 1020.50L636.11 1014.50L583.82 1014.50Z"/>
<path fill="#FFFFE0" d="M624.79 1137.54C621.72 1137.77 617.69 1140.41 614.87 1143.25C612.05 1146.08 609.65 1150.32 607.86 1154.56C606.07 1158.80 605.10 1163.97 604.15 1168.68C603.20 1173.38 604.60 1178.55 602.15 1182.79C599.69 1187.03 593.90 1190.10 589.43 1194.11C584.95 1198.11 580.01 1202.82 575.30 1206.82C570.59 1210.83 566.35 1215.31 561.17 1218.13C556.00 1220.95 549.44 1221.67 544.24 1223.74C539.05 1225.81 534.27 1227.30 530.02 1230.55C525.76 1233.80 520.82 1238.79 518.70 1243.26C516.58 1247.74 516.58 1252.21 517.29 1257.38C518.01 1262.55 520.40 1268.64 523.00 1274.30C525.61 1279.96 529.38 1284.71 532.92 1291.32C536.46 1297.93 540.49 1306.89 544.24 1313.95C548.00 1321.01 551.22 1326.61 555.46 1333.67C559.70 1340.73 565.43 1348.76 569.69 1356.30C573.95 1363.84 577.72 1371.85 581.01 1378.93C584.30 1386.00 587.30 1392.16 589.43 1398.75C591.55 1405.34 594.20 1411.41 593.73 1418.47C593.27 1425.53 588.27 1434.07 586.62 1441.10C584.97 1448.12 584.05 1454.07 583.82 1460.62C583.58 1467.18 584.52 1473.37 585.22 1480.45C585.92 1487.52 586.37 1496.48 588.02 1503.07C589.68 1509.66 592.30 1515.29 595.14 1519.99C597.97 1524.70 602.00 1528.94 605.05 1531.31C608.11 1533.68 610.41 1534.44 613.47 1534.21C616.52 1533.98 619.85 1532.98 623.39 1529.91C626.93 1526.84 631.87 1520.73 634.71 1515.79C637.55 1510.85 639.15 1505.69 640.42 1500.27C641.69 1494.85 642.32 1489.37 642.32 1483.25C642.32 1477.13 640.84 1469.60 640.42 1463.53C640.00 1457.45 638.88 1451.71 639.82 1446.81C640.75 1441.90 642.64 1438.35 646.03 1434.09C649.42 1429.84 656.85 1426.23 660.15 1421.28C663.46 1416.32 665.15 1409.53 665.87 1404.36C666.58 1399.18 665.88 1395.43 664.46 1390.24C663.04 1385.05 659.95 1379.81 657.35 1373.22C654.74 1366.63 651.66 1358.70 648.83 1350.69C646.01 1342.68 643.24 1333.66 640.42 1325.16C637.60 1316.67 634.74 1307.26 631.90 1299.73C629.06 1292.21 625.27 1286.13 623.39 1280.01C621.50 1273.88 620.58 1269.11 620.58 1262.99C620.58 1256.86 622.45 1249.09 623.39 1243.26C624.32 1237.44 625.34 1233.42 626.19 1228.05C627.04 1222.67 628.01 1216.68 628.50 1211.03C628.98 1205.37 628.30 1199.28 629.10 1194.11C629.90 1188.93 631.67 1184.70 633.31 1179.99C634.94 1175.28 637.98 1170.11 638.92 1165.87C639.85 1161.63 639.85 1158.56 638.92 1154.56C637.98 1150.55 635.66 1144.68 633.31 1141.84C630.95 1139.01 627.86 1137.31 624.79 1137.54Z"/>
<path fill="#FFFFE0" d="M582.41 1735.70C581.23 1732.02 578.61 1721.54 575.30 1713.62C571.99 1705.71 567.05 1696.67 562.58 1688.19C558.10 1679.72 552.22 1669.59 548.45 1662.76C544.68 1655.94 542.52 1652.65 539.93 1647.24C537.35 1641.84 534.42 1635.51 532.92 1630.32C531.42 1625.14 530.68 1620.83 530.92 1616.11C531.15 1611.39 532.10 1606.46 534.32 1601.99C536.55 1597.52 540.24 1593.28 544.24 1589.28C548.25 1585.27 553.66 1581.27 558.37 1577.96C563.08 1574.66 568.02 1571.42 572.49 1569.45C576.97 1567.48 581.21 1566.38 585.22 1566.15C589.22 1565.91 593.23 1566.32 596.54 1568.05C599.84 1569.79 602.70 1572.79 605.05 1576.56C607.41 1580.33 609.03 1585.49 610.66 1590.68C612.30 1595.87 614.25 1602.04 614.87 1607.70C615.49 1613.35 615.21 1619.45 614.37 1624.62C613.54 1629.79 610.58 1634.03 609.86 1638.73C609.14 1643.44 609.46 1647.66 610.06 1652.85C610.66 1658.04 612.42 1664.68 613.47 1669.87C614.52 1675.06 615.19 1679.05 616.37 1683.99C617.56 1688.93 618.71 1693.62 620.58 1699.51C622.45 1705.40 625.47 1713.30 627.60 1719.33C629.72 1725.36 632.35 1732.97 633.31 1735.70L633.31 1741.70L582.41 1741.70Z"/>
<path fill="#FFFFE0" d="M807.72 1020.50C807.39 1023.52 806.16 1032.30 805.72 1038.62C805.29 1044.95 804.65 1052.32 805.12 1058.45C805.59 1064.57 806.77 1069.71 808.53 1075.37C810.28 1081.02 813.52 1085.79 815.64 1092.39C817.76 1098.98 819.60 1108.00 821.25 1114.91C822.90 1121.82 824.59 1130.10 825.56 1133.83C826.53 1137.57 826.81 1136.75 827.06 1137.34L833.06 1137.34L833.06 1014.50L807.72 1014.50Z"/>
<path fill="#FFFFE0" d="M808.53 1735.70C809.48 1733.12 812.35 1724.33 814.24 1720.23C816.12 1716.14 817.71 1713.74 819.85 1711.12C821.98 1708.50 825.86 1705.61 827.06 1704.51L833.06 1704.51L833.06 1741.70L808.53 1741.70Z"/>
<path fill="#FE9C72" d="M122.67 1020.50C121.97 1022.10 119.63 1027.24 118.46 1030.11C117.30 1032.98 116.31 1035.20 115.66 1037.72C115.01 1040.24 114.56 1042.73 114.56 1045.23C114.56 1047.73 114.92 1049.60 115.66 1052.74C116.39 1055.88 117.63 1059.96 118.96 1064.05C120.30 1068.14 121.95 1072.40 123.67 1077.27C125.39 1082.14 127.36 1087.28 129.28 1093.29C131.20 1099.29 133.11 1106.84 135.19 1113.31C137.28 1119.78 139.60 1125.86 141.81 1132.13C144.01 1138.41 146.21 1144.66 148.42 1150.96C150.62 1157.25 152.99 1164.54 155.03 1169.88C157.07 1175.22 158.44 1179.39 160.64 1182.99C162.85 1186.60 165.42 1188.98 168.25 1191.50C171.09 1194.02 174.53 1195.59 177.67 1198.11C180.81 1200.63 183.63 1204.27 187.09 1206.62C190.55 1208.97 194.32 1210.56 198.41 1212.23C202.50 1213.90 207.56 1216.17 211.63 1216.63C215.71 1217.10 218.46 1215.85 222.85 1215.03C227.25 1214.21 232.94 1212.59 237.98 1211.73C243.03 1210.86 249.19 1209.57 253.11 1209.83C257.03 1210.08 259.02 1211.09 261.53 1213.23C264.03 1215.36 266.40 1219.25 268.14 1222.64C269.87 1226.03 270.91 1229.75 271.94 1233.55C272.98 1237.36 273.36 1241.46 274.35 1245.47C275.33 1249.47 276.10 1253.44 277.86 1257.58C279.61 1261.72 281.81 1266.91 284.87 1270.30C287.92 1273.68 292.42 1277.67 296.19 1277.91C299.96 1278.14 304.44 1275.09 307.51 1271.70C310.58 1268.31 312.74 1262.29 314.62 1257.58C316.51 1252.88 317.78 1248.85 318.83 1243.46C319.88 1238.08 320.30 1232.52 320.93 1225.24C321.57 1217.97 321.47 1207.46 322.64 1199.81C323.81 1192.17 325.56 1185.21 327.95 1179.39C330.33 1173.57 332.44 1169.48 336.96 1164.87C341.49 1160.27 348.77 1155.36 355.10 1151.76C361.42 1148.15 369.51 1146.55 374.93 1143.25C380.36 1139.94 385.07 1136.17 387.66 1131.93C390.24 1127.69 391.16 1123.01 390.46 1117.82C389.76 1112.63 387.46 1108.80 383.45 1100.80C379.44 1092.79 372.08 1079.65 366.42 1069.76C360.76 1059.86 354.76 1049.63 349.49 1041.42C344.21 1033.22 337.21 1023.99 334.76 1020.50L334.76 1014.50L122.67 1014.50Z"/>
<path fill="#FE9C72" d="M204.32 1271.70C207.14 1271.23 209.21 1273.63 212.74 1276.00C216.26 1278.37 220.50 1282.86 225.46 1285.92C230.42 1288.97 236.36 1291.27 242.49 1294.33C248.62 1297.38 255.63 1300.00 262.23 1304.24C268.82 1308.48 275.94 1313.87 282.06 1319.76C288.19 1325.65 293.42 1333.46 298.99 1339.58C304.57 1345.70 309.93 1351.08 315.52 1356.50C321.12 1361.92 327.36 1366.93 332.56 1372.12C337.75 1377.31 342.44 1382.23 346.68 1387.64C350.92 1393.04 354.23 1398.43 358.00 1404.56C361.78 1410.68 365.80 1417.77 369.32 1424.38C372.85 1430.99 376.17 1437.98 379.14 1444.20C382.11 1450.43 385.15 1456.58 387.16 1461.72C389.16 1466.86 390.75 1470.70 391.16 1475.04C391.58 1479.38 391.01 1484.17 389.66 1487.76C388.31 1491.34 386.44 1494.41 383.05 1496.57C379.66 1498.72 374.92 1499.94 369.32 1500.67C363.73 1501.40 356.10 1501.20 349.49 1500.97C342.87 1500.74 334.76 1499.77 329.65 1499.27C324.54 1498.77 323.94 1498.63 318.83 1497.97C313.72 1497.30 306.06 1496.13 298.99 1495.26C291.93 1494.40 283.52 1493.01 276.45 1492.76C269.39 1492.51 262.28 1493.33 256.62 1493.76C250.96 1494.20 246.50 1495.90 242.49 1495.36C238.48 1494.83 235.18 1493.48 232.57 1490.56C229.97 1487.64 228.67 1482.15 226.86 1477.84C225.06 1473.54 223.87 1470.82 221.75 1464.73C219.63 1458.64 217.04 1449.91 214.14 1441.30C211.23 1432.69 207.14 1422.01 204.32 1413.07C201.50 1404.12 199.58 1395.18 197.21 1387.64C194.84 1380.09 192.08 1374.40 190.09 1367.81C188.11 1361.22 186.09 1354.21 185.29 1348.09C184.48 1341.97 184.48 1336.73 185.29 1331.07C186.09 1325.41 189.04 1320.27 190.09 1314.15C191.15 1308.03 190.65 1300.22 191.60 1294.33C192.55 1288.44 193.68 1282.58 195.81 1278.81C197.93 1275.04 201.50 1272.17 204.32 1271.70Z"/>
<path fill="#FE9C72" d="M125.08 1735.70C126.73 1733.32 130.99 1725.70 134.99 1721.43C139.00 1717.17 143.94 1712.86 149.12 1710.12C154.30 1707.38 160.39 1705.63 166.05 1705.01C171.71 1704.40 176.95 1705.23 183.08 1706.42C189.21 1707.60 195.76 1710.32 202.82 1712.12C209.88 1713.92 218.38 1715.81 225.46 1717.23C232.54 1718.65 238.68 1720.40 245.30 1720.63C251.91 1720.87 259.00 1719.91 265.13 1718.63C271.26 1717.34 276.89 1714.19 282.06 1712.92C287.24 1711.65 292.06 1710.87 296.19 1711.02C300.31 1711.17 303.15 1712.09 306.81 1713.82C310.47 1715.56 314.59 1717.79 318.13 1721.43C321.67 1725.08 326.39 1733.32 328.05 1735.70L328.05 1741.70L125.08 1741.70Z"/>
<path fill="#FE9C72" d="M548.45 1258.78C551.42 1256.41 559.04 1252.94 563.98 1251.67C568.92 1250.41 574.10 1250.46 578.10 1251.17C582.11 1251.89 585.18 1253.06 588.02 1255.98C590.86 1258.90 592.78 1263.29 595.14 1268.69C597.49 1274.10 599.56 1281.36 602.15 1288.42C604.74 1295.48 607.83 1303.04 610.66 1311.05C613.50 1319.05 616.59 1327.98 619.18 1336.48C621.77 1344.97 624.69 1354.93 626.19 1362.01C627.70 1369.08 628.20 1374.69 628.20 1378.93C628.20 1383.16 627.46 1385.45 626.19 1387.44C624.92 1389.42 622.70 1390.84 620.58 1390.84C618.46 1390.84 616.31 1389.89 613.47 1387.44C610.63 1384.98 607.07 1380.84 603.55 1376.12C600.03 1371.40 596.57 1365.71 592.33 1359.10C588.09 1352.49 582.83 1344.00 578.10 1336.48C573.38 1328.95 567.99 1321.01 563.98 1313.95C559.97 1306.89 556.88 1300.73 554.06 1294.13C551.24 1287.52 548.37 1279.01 547.05 1274.30C545.73 1269.60 545.91 1268.48 546.15 1265.89C546.38 1263.31 545.48 1261.15 548.45 1258.78Z"/>
<ellipse cx="573.1" cy="1630.8" rx="7.8" ry="9.8" transform="rotate(8 573.1 1630.8)" fill="#FE9C72"/>
</g>
<path d="M468.95 1020.50V1735.70M110.85 1378.10H827.06" stroke="#d4d4d4" stroke-width="1.2" fill="none"/>
<g fill="#0000ff">
<circle cx="328.1" cy="1470.7" r="5.2"/><circle cx="351.4" cy="1448.1" r="5.2"/><circle cx="327.0" cy="1464.3" r="5.2"/><circle cx="346.0" cy="1475.1" r="5.2"/><circle cx="328.2" cy="1444.8" r="5.2"/><circle cx="348.4" cy="1464.5" r="5.2"/><circle cx="357.1" cy="1469.1" r="5.2"/><circle cx="339.9" cy="1456.2" r="5.2"/><circle cx="332.8" cy="1445.5" r="5.2"/><circle cx="342.0" cy="1461.9" r="5.2"/><circle cx="337.4" cy="1460.4" r="5.2"/><circle cx="343.9" cy="1469.6" r="5.2"/><circle cx="352.5" cy="1458.9" r="5.2"/><circle cx="326.1" cy="1463.0" r="5.2"/><circle cx="325.5" cy="1465.9" r="5.2"/><circle cx="332.8" cy="1466.4" r="5.2"/><circle cx="349.8" cy="1436.1" r="5.2"/><circle cx="338.0" cy="1471.4" r="5.2"/><circle cx="340.0" cy="1466.1" r="5.2"/><circle cx="342.1" cy="1444.0" r="5.2"/><circle cx="346.9" cy="1445.2" r="5.2"/><circle cx="360.7" cy="1444.7" r="5.2"/><circle cx="348.2" cy="1457.3" r="5.2"/><circle cx="351.0" cy="1446.9" r="5.2"/><circle cx="351.5" cy="1454.1" r="5.2"/><circle cx="354.3" cy="1464.6" r="5.2"/><circle cx="342.5" cy="1447.3" r="5.2"/><circle cx="349.1" cy="1464.2" r="5.2"/><circle cx="358.2" cy="1447.6" r="5.2"/><circle cx="346.8" cy="1465.6" r="5.2"/><circle cx="344.0" cy="1462.1" r="5.2"/><circle cx="342.9" cy="1450.0" r="5.2"/><circle cx="330.3" cy="1457.9" r="5.2"/><circle cx="347.2" cy="1481.0" r="5.2"/><circle cx="351.3" cy="1472.4" r="5.2"/><circle cx="349.2" cy="1467.7" r="5.2"/><circle cx="342.9" cy="1471.2" r="5.2"/><circle cx="359.6" cy="1447.8" r="5.2"/><circle cx="343.6" cy="1474.1" r="5.2"/><circle cx="350.2" cy="1438.9" r="5.2"/><circle cx="342.9" cy="1470.9" r="5.2"/><circle cx="342.3" cy="1445.8" r="5.2"/><circle cx="339.8" cy="1466.2" r="5.2"/><circle cx="352.7" cy="1466.5" r="5.2"/><circle cx="341.6" cy="1480.8" r="5.2"/><circle cx="333.0" cy="1475.3" r="5.2"/><circle cx="352.7" cy="1451.0" r="5.2"/><circle cx="322.2" cy="1453.1" r="5.2"/><circle cx="343.5" cy="1467.2" r="5.2"/><circle cx="357.3" cy="1438.3" r="5.2"/><circle cx="341.0" cy="1470.0" r="5.2"/><circle cx="351.5" cy="1441.8" r="5.2"/><circle cx="336.7" cy="1465.1" r="5.2"/><circle cx="342.2" cy="1483.7" r="5.2"/><circle cx="340.1" cy="1489.2" r="5.2"/><circle cx="333.8" cy="1455.4" r="5.2"/><circle cx="348.6" cy="1479.2" r="5.2"/><circle cx="347.9" cy="1462.1" r="5.2"/><circle cx="321.9" cy="1456.2" r="5.2"/><circle cx="334.6" cy="1454.2" r="5.2"/><circle cx="347.2" cy="1452.5" r="5.2"/><circle cx="349.3" cy="1458.1" r="5.2"/><circle cx="337.5" cy="1463.2" r="5.2"/><circle cx="345.5" cy="1471.6" r="5.2"/><circle cx="336.0" cy="1458.3" r="5.2"/><circle cx="356.2" cy="1451.4" r="5.2"/><circle cx="336.0" cy="1442.8" r="5.2"/><circle cx="342.8" cy="1462.5" r="5.2"/><circle cx="355.8" cy="1457.3" r="5.2"/><circle cx="324.1" cy="1469.2" r="5.2"/><circle cx="352.7" cy="1464.4" r="5.2"/><circle cx="339.7" cy="1436.4" r="5.2"/><circle cx="331.5" cy="1482.5" r="5.2"/><circle cx="324.9" cy="1479.8" r="5.2"/><circle cx="350.0" cy="1441.3" r="5.2"/><circle cx="333.7" cy="1452.0" r="5.2"/><circle cx="328.5" cy="1454.2" r="5.2"/><circle cx="354.1" cy="1465.7" r="5.2"/><circle cx="339.6" cy="1445.3" r="5.2"/><circle cx="339.7" cy="1440.2" r="5.2"/><circle cx="356.1" cy="1467.2" r="5.2"/><circle cx="355.0" cy="1458.6" r="5.2"/><circle cx="333.5" cy="1464.2" r="5.2"/><circle cx="337.1" cy="1444.3" r="5.2"/><circle cx="323.2" cy="1443.8" r="5.2"/><circle cx="340.9" cy="1462.4" r="5.2"/><circle cx="336.0" cy="1484.0" r="5.2"/><circle cx="342.9" cy="1468.3" r="5.2"/><circle cx="353.8" cy="1442.4" r="5.2"/><circle cx="333.8" cy="1483.1" r="5.2"/><circle cx="344.5" cy="1474.2" r="5.2"/><circle cx="348.6" cy="1446.7" r="5.2"/><circle cx="333.1" cy="1456.3" r="5.2"/><circle cx="349.1" cy="1470.6" r="5.2"/><circle cx="339.9" cy="1469.7" r="5.2"/><circle cx="333.0" cy="1466.8" r="5.2"/><circle cx="343.4" cy="1474.7" r="5.2"/><circle cx="332.4" cy="1450.4" r="5.2"/><circle cx="352.5" cy="1453.7" r="5.2"/><circle cx="343.4" cy="1460.9" r="5.2"/><circle cx="343.1" cy="1456.0" r="5.2"/><circle cx="337.5" cy="1441.9" r="5.2"/><circle cx="334.3" cy="1488.1" r="5.2"/><circle cx="346.6" cy="1458.9" r="5.2"/><circle cx="338.7" cy="1461.8" r="5.2"/><circle cx="344.7" cy="1448.6" r="5.2"/><circle cx="343.1" cy="1462.9" r="5.2"/><circle cx="333.1" cy="1450.8" r="5.2"/><circle cx="330.5" cy="1447.5" r="5.2"/><circle cx="338.2" cy="1451.6" r="5.2"/><circle cx="334.5" cy="1464.0" r="5.2"/><circle cx="352.8" cy="1456.7" r="5.2"/><circle cx="339.5" cy="1451.1" r="5.2"/><circle cx="339.6" cy="1474.6" r="5.2"/><circle cx="336.9" cy="1443.8" r="5.2"/><circle cx="327.7" cy="1447.9" r="5.2"/><circle cx="326.4" cy="1482.6" r="5.2"/><circle cx="344.7" cy="1454.9" r="5.2"/><circle cx="356.3" cy="1444.0" r="5.2"/><circle cx="348.9" cy="1469.4" r="5.2"/><circle cx="324.8" cy="1442.1" r="5.2"/><circle cx="331.3" cy="1477.8" r="5.2"/><circle cx="354.6" cy="1435.8" r="5.2"/><circle cx="352.0" cy="1449.9" r="5.2"/><circle cx="336.9" cy="1453.0" r="5.2"/><circle cx="337.6" cy="1433.1" r="5.2"/><circle cx="330.5" cy="1444.9" r="5.2"/><circle cx="346.2" cy="1490.4" r="5.2"/><circle cx="322.9" cy="1460.6" r="5.2"/><circle cx="347.0" cy="1446.4" r="5.2"/><circle cx="350.8" cy="1464.6" r="5.2"/><circle cx="323.9" cy="1458.3" r="5.2"/><circle cx="338.5" cy="1461.3" r="5.2"/><circle cx="342.4" cy="1454.2" r="5.2"/><circle cx="343.0" cy="1450.2" r="5.2"/><circle cx="331.6" cy="1487.1" r="5.2"/><circle cx="344.8" cy="1465.3" r="5.2"/><circle cx="324.3" cy="1463.8" r="5.2"/><circle cx="349.6" cy="1436.7" r="5.2"/><circle cx="352.5" cy="1449.6" r="5.2"/><circle cx="345.2" cy="1456.3" r="5.2"/><circle cx="343.3" cy="1477.8" r="5.2"/><circle cx="336.8" cy="1485.8" r="5.2"/><circle cx="332.8" cy="1448.7" r="5.2"/><circle cx="348.5" cy="1440.6" r="5.2"/><circle cx="337.1" cy="1475.5" r="5.2"/><circle cx="346.3" cy="1487.2" r="5.2"/><circle cx="353.5" cy="1451.5" r="5.2"/><circle cx="334.7" cy="1457.8" r="5.2"/><circle cx="328.9" cy="1460.5" r="5.2"/><circle cx="339.0" cy="1458.5" r="5.2"/><circle cx="353.4" cy="1451.7" r="5.2"/><circle cx="325.7" cy="1482.1" r="5.2"/><circle cx="329.7" cy="1457.4" r="5.2"/><circle cx="339.6" cy="1455.2" r="5.2"/><circle cx="330.5" cy="1460.2" r="5.2"/><circle cx="339.6" cy="1478.0" r="5.2"/><circle cx="348.8" cy="1468.8" r="5.2"/><circle cx="331.9" cy="1465.4" r="5.2"/><circle cx="346.2" cy="1478.1" r="5.2"/><circle cx="345.9" cy="1454.4" r="5.2"/><circle cx="341.4" cy="1456.6" r="5.2"/><circle cx="343.6" cy="1469.5" r="5.2"/><circle cx="337.4" cy="1448.8" r="5.2"/><circle cx="332.0" cy="1480.4" r="5.2"/><circle cx="354.5" cy="1470.2" r="5.2"/><circle cx="350.0" cy="1469.5" r="5.2"/><circle cx="341.0" cy="1470.3" r="5.2"/><circle cx="330.0" cy="1461.1" r="5.2"/><circle cx="333.3" cy="1474.2" r="5.2"/><circle cx="334.9" cy="1460.6" r="5.2"/><circle cx="345.2" cy="1479.4" r="5.2"/><circle cx="332.7" cy="1448.6" r="5.2"/><circle cx="349.6" cy="1439.6" r="5.2"/><circle cx="345.8" cy="1449.4" r="5.2"/><circle cx="339.9" cy="1432.2" r="5.2"/><circle cx="348.5" cy="1449.4" r="5.2"/><circle cx="345.3" cy="1453.0" r="5.2"/><circle cx="342.1" cy="1484.5" r="5.2"/><circle cx="340.7" cy="1467.1" r="5.2"/><circle cx="346.4" cy="1443.8" r="5.2"/><circle cx="342.4" cy="1451.7" r="5.2"/><circle cx="327.9" cy="1478.5" r="5.2"/><circle cx="348.0" cy="1458.5" r="5.2"/><circle cx="331.5" cy="1432.6" r="5.2"/><circle cx="346.1" cy="1456.5" r="5.2"/><circle cx="323.3" cy="1465.8" r="5.2"/><circle cx="325.0" cy="1465.7" r="5.2"/><circle cx="342.5" cy="1464.9" r="5.2"/><circle cx="343.3" cy="1461.8" r="5.2"/><circle cx="329.0" cy="1458.6" r="5.2"/><circle cx="335.6" cy="1458.4" r="5.2"/><circle cx="343.8" cy="1468.5" r="5.2"/><circle cx="345.2" cy="1455.3" r="5.2"/><circle cx="323.6" cy="1472.8" r="5.2"/><circle cx="335.5" cy="1477.5" r="5.2"/><circle cx="329.9" cy="1462.6" r="5.2"/><circle cx="339.6" cy="1459.0" r="5.2"/><circle cx="334.9" cy="1433.9" r="5.2"/><circle cx="345.8" cy="1473.6" r="5.2"/><circle cx="340.3" cy="1444.5" r="5.2"/><circle cx="343.1" cy="1467.9" r="5.2"/><circle cx="339.2" cy="1460.5" r="5.2"/><circle cx="355.8" cy="1437.0" r="5.2"/><circle cx="335.1" cy="1432.7" r="5.2"/><circle cx="333.7" cy="1451.3" r="5.2"/><circle cx="330.9" cy="1453.1" r="5.2"/><circle cx="359.9" cy="1449.8" r="5.2"/><circle cx="340.4" cy="1433.4" r="5.2"/><circle cx="345.2" cy="1443.9" r="5.2"/><circle cx="334.9" cy="1437.4" r="5.2"/><circle cx="342.0" cy="1443.9" r="5.2"/><circle cx="340.3" cy="1454.4" r="5.2"/><circle cx="334.6" cy="1477.1" r="5.2"/><circle cx="350.8" cy="1457.2" r="5.2"/><circle cx="331.5" cy="1447.0" r="5.2"/><circle cx="336.2" cy="1449.7" r="5.2"/><circle cx="333.7" cy="1445.8" r="5.2"/><circle cx="330.8" cy="1460.7" r="5.2"/><circle cx="356.1" cy="1454.2" r="5.2"/>
<circle cx="184.7" cy="1027.2" r="5.2"/><path d="M150.8 1031.8L156.6 1043.4L145.0 1043.4Z"/><circle cx="228.6" cy="1035.7" r="5.2"/><circle cx="222.0" cy="1043.2" r="5.2"/><circle cx="260.0" cy="1022.5" r="5.2"/><circle cx="269.5" cy="1026.5" r="5.2"/><circle cx="235.7" cy="1051.1" r="5.2"/><rect x="121.1" y="1052.4" width="11.0" height="11.0"/><path d="M141.1 1054.4L146.9 1066.0L135.3 1066.0Z"/><circle cx="162.1" cy="1054.5" r="5.2"/><path d="M164.6 1059.1L171.7 1066.2L164.6 1073.3L157.5 1066.2Z"/><rect x="145.0" y="1066.0" width="11.0" height="11.0"/><rect x="127.5" y="1074.4" width="11.0" height="11.0"/><path d="M136.4 1086.4L142.2 1098.0L130.6 1098.0Z"/><rect x="196.7" y="1065.0" width="11.0" height="11.0"/><circle cx="198.1" cy="1075.6" r="5.2"/><circle cx="223.5" cy="1067.1" r="5.2"/><circle cx="238.6" cy="1059.8" r="5.2"/><rect x="247.6" y="1052.4" width="11.0" height="11.0"/><circle cx="250.2" cy="1062.4" r="5.2"/><rect x="236.3" y="1064.1" width="11.0" height="11.0"/><circle cx="267.7" cy="1056.0" r="5.2"/><path d="M226.7 1074.2L233.8 1081.3L226.7 1088.4L219.6 1081.3Z"/><circle cx="243.6" cy="1079.4" r="5.2"/><circle cx="263.4" cy="1076.2" r="5.2"/><path d="M253.4 1078.5L260.5 1085.6L253.4 1092.7L246.3 1085.6Z"/><circle cx="263.4" cy="1091.2" r="5.2"/><circle cx="268.1" cy="1098.3" r="5.2"/><circle cx="272.9" cy="1102.2" r="5.2"/><circle cx="190.0" cy="1099.1" r="5.2"/><path d="M246.8 1104.5L253.9 1111.6L246.8 1118.7L239.7 1111.6Z"/><rect x="136.5" y="1114.0" width="11.0" height="11.0"/><circle cx="200.9" cy="1121.7" r="5.2"/><circle cx="260.6" cy="1121.9" r="5.2"/><circle cx="201.7" cy="1136.5" r="5.2"/><circle cx="233.5" cy="1136.0" r="5.2"/><circle cx="297.8" cy="1023.5" r="5.2"/><circle cx="289.3" cy="1044.6" r="5.2"/><path d="M288.8 1046.6L300.4 1040.8L300.4 1052.4Z"/><path d="M300.1 1051.7L311.7 1045.9L311.7 1057.5Z"/><circle cx="296.1" cy="1062.4" r="5.2"/><circle cx="301.2" cy="1060.2" r="5.2"/><path d="M299.1 1064.9L310.7 1059.1L310.7 1070.7Z"/><circle cx="307.2" cy="1070.5" r="5.2"/><path d="M312.3 1073.4L323.9 1067.6L323.9 1079.2Z"/><path d="M309.5 1079.0L321.1 1073.2L321.1 1084.8Z"/><circle cx="301.2" cy="1090.7" r="5.2"/><path d="M305.7 1088.0L317.3 1082.2L317.3 1093.8Z"/><rect x="315.1" y="1090.1" width="11.0" height="11.0"/><rect x="306.4" y="1108.3" width="11.0" height="11.0"/><path d="M350.9 1121.4L362.5 1115.6L362.5 1127.2Z"/><path d="M356.2 1125.5L367.8 1119.7L367.8 1131.3Z"/><circle cx="326.6" cy="1130.0" r="5.2"/><circle cx="282.0" cy="1136.0" r="5.2"/><path d="M311.0 1129.4L318.1 1136.5L311.0 1143.6L303.9 1136.5Z"/><path d="M331.3 1128.0L338.4 1135.1L331.3 1142.2L324.2 1135.1Z"/><circle cx="345.4" cy="1136.8" r="5.2"/><circle cx="203.7" cy="1146.4" r="5.2"/><circle cx="201.1" cy="1161.0" r="5.2"/><circle cx="222.0" cy="1166.3" r="5.2"/><circle cx="191.9" cy="1171.2" r="5.2"/><rect x="197.7" y="1172.9" width="11.0" height="11.0"/><circle cx="201.7" cy="1191.5" r="5.2"/><circle cx="209.8" cy="1224.5" r="5.2"/><circle cx="310.0" cy="1146.4" r="5.2"/><circle cx="320.0" cy="1140.3" r="5.2"/><circle cx="322.8" cy="1144.5" r="5.2"/><circle cx="353.9" cy="1140.3" r="5.2"/><path d="M349.0 1146.4L360.6 1140.6L360.6 1152.2Z"/><circle cx="347.3" cy="1152.9" r="5.2"/><path d="M340.3 1157.1L347.4 1164.2L340.3 1171.3L333.2 1164.2Z"/><circle cx="359.2" cy="1165.6" r="5.2"/><circle cx="315.3" cy="1165.6" r="5.2"/><circle cx="300.2" cy="1169.9" r="5.2"/><path d="M169.2 1238.9L175.0 1250.5L163.4 1250.5Z"/><circle cx="286.4" cy="1252.6" r="5.2"/><circle cx="303.6" cy="1425.3" r="5.2"/><circle cx="337.9" cy="1421.5" r="5.2"/><circle cx="353.1" cy="1429.4" r="5.2"/><circle cx="325.1" cy="1437.6" r="5.2"/><circle cx="334.1" cy="1432.7" r="5.2"/><circle cx="309.4" cy="1458.2" r="5.2"/><circle cx="309.1" cy="1465.6" r="5.2"/><circle cx="311.6" cy="1479.6" r="5.2"/><circle cx="320.1" cy="1477.2" r="5.2"/><circle cx="363.8" cy="1468.9" r="5.2"/><rect x="355.8" y="1448.6" width="11.0" height="11.0"/><path d="M362.9 1479.6L370.0 1486.7L362.9 1493.8L355.8 1486.7Z"/><circle cx="343.7" cy="1492.8" r="5.2"/><circle cx="331.6" cy="1488.7" r="5.2"/><circle cx="332.1" cy="1521.6" r="5.2"/><circle cx="246.0" cy="1504.3" r="5.2"/><circle cx="280.7" cy="1596.4" r="5.2"/><path d="M275.9 1675.0L281.7 1686.6L270.1 1686.6Z"/><path d="M277.9 1693.6L283.7 1705.2L272.1 1705.2Z"/><circle cx="150.0" cy="1710.7" r="5.2"/><rect x="119.9" y="1712.3" width="11.0" height="11.0"/><circle cx="250.5" cy="1714.7" r="5.2"/><path d="M289.2 1720.2L295.0 1731.8L283.4 1731.8Z"/><path d="M135.3 1726.7L141.1 1738.3L129.5 1738.3Z"/><circle cx="194.0" cy="1732.5" r="5.2"/><path d="M801.8 1024.0L807.6 1035.6L796.0 1035.6Z"/><path d="M783.8 1046.7L789.6 1058.3L778.0 1058.3Z"/><path d="M737.6 1075.4L743.4 1087.0L731.8 1087.0Z"/><path d="M706.2 1112.4L712.0 1124.0L700.4 1124.0Z"/><path d="M665.4 1123.3L671.2 1134.9L659.6 1134.9Z"/><path d="M680.0 1125.8L685.8 1137.4L674.2 1137.4Z"/><circle cx="558.9" cy="1269.1" r="5.2"/><circle cx="589.8" cy="1267.5" r="5.2"/><circle cx="566.7" cy="1282.7" r="5.2"/><circle cx="577.8" cy="1308.2" r="5.2"/><path d="M592.6 1314.8L598.4 1326.4L586.8 1326.4Z"/><circle cx="584.0" cy="1332.1" r="5.2"/><circle cx="620.6" cy="1380.3" r="5.2"/><circle cx="598.0" cy="1402.1" r="5.2"/><path d="M658.9 1319.7L664.7 1331.3L653.1 1331.3Z"/><path d="M703.4 1393.4L709.2 1405.0L697.6 1405.0Z"/><path d="M671.3 1449.4L677.1 1461.0L665.5 1461.0Z"/><path d="M619.8 1594.3L625.6 1605.9L614.0 1605.9Z"/><path d="M593.5 1608.3L599.3 1619.9L587.7 1619.9Z"/><path d="M811.7 1662.6L817.5 1674.2L805.9 1674.2Z"/><path d="M796.5 1701.3L802.3 1712.9L790.7 1712.9Z"/>
</g>
<g fill="#ff0000"><circle cx="769.0" cy="1129.8" r="5.2"/><path d="M116.4 1290.6L122.2 1302.2L110.6 1302.2Z"/><circle cx="144.6" cy="1496.1" r="5.2"/><circle cx="640.4" cy="1452.4" r="5.2"/><circle cx="612.0" cy="1637.9" r="5.2"/><circle cx="349.6" cy="1705.9" r="5.2"/></g>
</g>
<rect x="110.85" y="1020.50" width="716.21" height="715.20" fill="none" stroke="#383838" stroke-width="1.8"/>
<path d="M110.85 1735.70v7.2M110.85 1735.70h-7.2M170.53 1735.70v7.2M110.85 1676.10h-7.2M230.22 1735.70v7.2M110.85 1616.50h-7.2M289.90 1735.70v7.2M110.85 1556.90h-7.2M349.59 1735.70v7.2M110.85 1497.30h-7.2M409.27 1735.70v7.2M110.85 1437.70h-7.2M468.95 1735.70v7.2M110.85 1378.10h-7.2M528.64 1735.70v7.2M110.85 1318.50h-7.2M588.32 1735.70v7.2M110.85 1258.90h-7.2M648.01 1735.70v7.2M110.85 1199.30h-7.2M707.69 1735.70v7.2M110.85 1139.70h-7.2M767.38 1735.70v7.2M110.85 1080.10h-7.2M827.06 1735.70v7.2M110.85 1020.50h-7.2" stroke="#383838" stroke-width="1.6" fill="none"/>
<g font-family="'DejaVu Sans', 'Liberation Sans', sans-serif" font-size="13.3px" fill="#262626" opacity="0.999"><text x="110.8" y="1760.6" text-anchor="middle">−180</text><text x="95.8" y="1741.1" text-anchor="end">−180</text><text x="170.5" y="1760.6" text-anchor="middle">−150</text><text x="95.8" y="1681.5" text-anchor="end">−150</text><text x="230.2" y="1760.6" text-anchor="middle">−120</text><text x="95.8" y="1621.9" text-anchor="end">−120</text><text x="289.9" y="1760.6" text-anchor="middle">−90</text><text x="95.8" y="1562.3" text-anchor="end">−90</text><text x="349.6" y="1760.6" text-anchor="middle">−60</text><text x="95.8" y="1502.7" text-anchor="end">−60</text><text x="409.3" y="1760.6" text-anchor="middle">−30</text><text x="95.8" y="1443.1" text-anchor="end">−30</text><text x="469.0" y="1760.6" text-anchor="middle">0</text><text x="95.8" y="1383.5" text-anchor="end">0</text><text x="528.6" y="1760.6" text-anchor="middle">30</text><text x="95.8" y="1323.9" text-anchor="end">30</text><text x="588.3" y="1760.6" text-anchor="middle">60</text><text x="95.8" y="1264.3" text-anchor="end">60</text><text x="648.0" y="1760.6" text-anchor="middle">90</text><text x="95.8" y="1204.7" text-anchor="end">90</text><text x="707.7" y="1760.6" text-anchor="middle">120</text><text x="95.8" y="1145.1" text-anchor="end">120</text><text x="767.4" y="1760.6" text-anchor="middle">150</text><text x="95.8" y="1085.5" text-anchor="end">150</text><text x="827.1" y="1760.6" text-anchor="middle">180</text><text x="95.8" y="1025.9" text-anchor="end">180</text></g>
<text x="359.0" y="1796.4" font-family="'Liberation Sans', sans-serif" font-weight="bold" font-size="27.5px" textLength="184.6" lengthAdjust="spacingAndGlyphs" fill="#000" opacity="0.999">Phi (degrees)</text>
<text transform="translate(45.4 1384.7) rotate(-90)" font-family="'Liberation Sans', sans-serif" font-weight="bold" font-size="29.4px" text-anchor="middle" fill="#000" opacity="0.999">Psi (degrees)</text>
<g opacity="0.999"><text x="31.8" y="971.4" font-family="'Liberation Sans', sans-serif" font-size="33px" fill="#000"><tspan font-weight="bold">(B)</tspan> BLT2</text></g>
</svg>
</body>
</html>
